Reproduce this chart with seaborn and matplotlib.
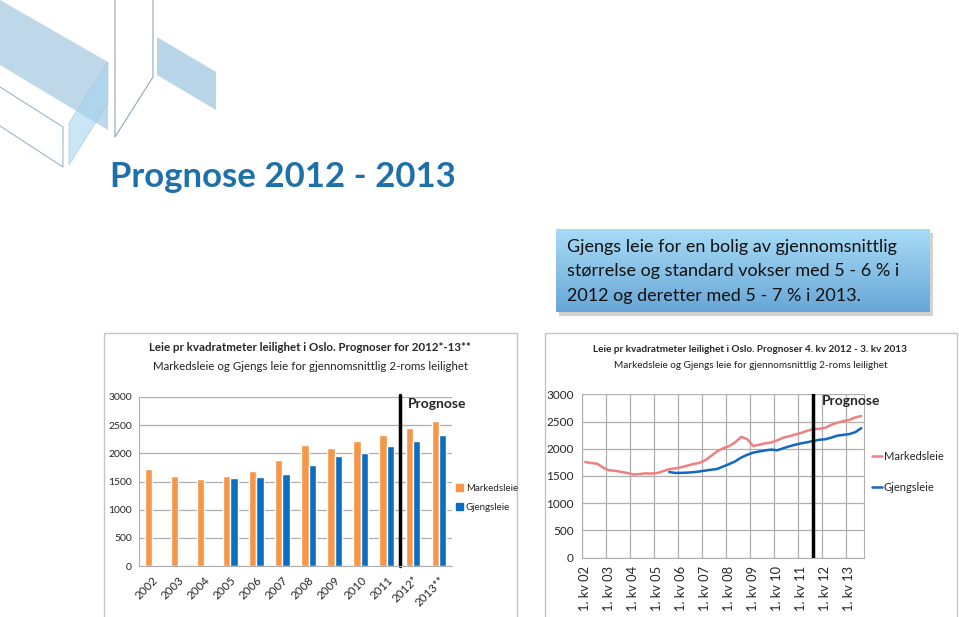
import numpy as np
import pandas as pd
import matplotlib
matplotlib.use("Agg")
import matplotlib.pyplot as plt
import seaborn as sns
from matplotlib.patches import Polygon, Rectangle
from matplotlib.lines import Line2D

# ---------------- data ----------------
years = ["2002", "2003", "2004", "2005", "2006", "2007", "2008", "2009",
         "2010", "2011", "2012*", "2013**"]
markedsleie_year = [1730, 1590, 1540, 1600, 1690, 1890, 2140, 2090, 2220, 2330, 2450, 2570]
gjengsleie_year = [np.nan, np.nan, np.nan, 1570, 1575, 1640, 1790, 1950, 2010, 2130, 2220, 2330]

quarter_ticklabels = ["1. kv 02", "1. kv 03", "1. kv 04", "1. kv 05", "1. kv 06", "1. kv 07",
                      "1. kv 08", "1. kv 09", "1. kv 10", "1. kv 11", "1. kv 12", "1. kv 13"]
markedsleie_q = [1756, 1738, 1725, 1650, 1605, 1595, 1575, 1555, 1527, 1535,
                 1548, 1545, 1555, 1590, 1625, 1640, 1660, 1690, 1720, 1740,
                 1790, 1870, 1955, 2010, 2050, 2120, 2220, 2175, 2050, 2075,
                 2100, 2115, 2155, 2205, 2230, 2262, 2292, 2330, 2360, 2366,
                 2385, 2440, 2478, 2508, 2528, 2575, 2600]
gjengsleie_q = [np.nan] * 14 + [1573, 1556, 1558, 1562, 1570, 1583, 1600, 1615, 1630, 1675,
                                1720, 1770, 1840, 1890, 1930, 1950, 1970, 1985, 1972, 2010,
                                2045, 2075, 2100, 2120, 2145, 2165, 2175, 2205, 2240, 2255,
                                2270, 2305, 2380]
series_names = ["Markedsleie", "Gjengsleie"]

# ---------------- style ----------------
sns.set_style("white")
FONT = ["Lato", "DejaVu Sans"]
plt.rcParams["font.family"] = FONT

W, H = 959, 617
fig = plt.figure(figsize=(W / 100, H / 100), dpi=100)


def fx(x):
    return x / W


def fy(y):
    return 1 - y / H


def axrect(x0, y0, x1, y1):
    return [fx(x0), fy(y1), (x1 - x0) / W, (y1 - y0) / H]


# background / decoration layer in pixel coords
bg = fig.add_axes([0, 0, 1, 1], zorder=-5)
bg.set_xlim(0, W)
bg.set_ylim(H, 0)
bg.axis("off")
bg.add_patch(Polygon([(0, 0), (108, 62), (108, 130), (0, 65)], closed=True,
                     facecolor="#A9CBE4", alpha=0.75, edgecolor="none"))
bg.add_patch(Polygon([(69, 123), (108, 62), (108, 103), (69, 165)], closed=True,
                     facecolor="#A6D4F0", alpha=0.6, edgecolor="#9BC3DC", lw=0.6))
bg.plot([0, 63, 63, 0], [87, 127, 167, 126], color="#9DB6CB", lw=0.8)
bg.plot([115, 115, 153, 153], [0, 137, 77, 0], color="#8FA8BD", lw=0.8)
bg.add_patch(Polygon([(157, 37), (216, 72), (216, 110), (157, 75)], closed=True,
                     facecolor="#B8D5EA", edgecolor="none"))
# panel frames
bg.add_patch(Rectangle((104, 333), 413, 320, fill=False, edgecolor="#C4C4C4", lw=1))
bg.add_patch(Rectangle((545, 333), 412, 320, fill=False, edgecolor="#C4C4C4", lw=1))
# text-box shadow
bg.add_patch(Rectangle((559, 233), 374, 83, facecolor="#9A9A9A", alpha=0.45, edgecolor="none"))

# main title
fig.text(fx(110), fy(177), "Prognose 2012 - 2013", fontsize=25, weight="bold",
         color="#1D70A8", ha="left", va="center")

# gradient text box
tb = fig.add_axes(axrect(556, 229, 930, 312), zorder=-2)
top = np.array(matplotlib.colors.to_rgb("#A8DCF6"))
bot = np.array(matplotlib.colors.to_rgb("#67A6D6"))
t = np.linspace(0, 1, 100)[:, None, None]
grad = top * (1 - t) + bot * t
grad = np.repeat(grad, 2, axis=1)
tb.imshow(grad, aspect="auto", extent=[0, 1, 0, 1])
tb.axis("off")
for yy, line in zip([247, 271, 296],
                    ["Gjengs leie for en bolig av gjennomsnittlig",
                     "størrelse og standard vokser med 5 - 6 % i",
                     "2012 og deretter med 5 - 7 % i 2013."]):
    fig.text(fx(567), fy(yy), line, fontsize=13, color="#111111", ha="left", va="center")

grid_c = "#AFAFAF"

# ---------------- left chart: bars ----------------
ax1 = fig.add_axes(axrect(139, 397, 452, 566))
df_bar = pd.DataFrame({
    "year": years * 2,
    "value": markedsleie_year + gjengsleie_year,
    "series": [series_names[0]] * len(years) + [series_names[1]] * len(years),
})
sns.barplot(data=df_bar, x="year", y="value", hue="series", ax=ax1,
            palette=["#F79646", "#0A6FC2"], width=0.56, saturation=1, legend=False)
ax1.set_xlim(-0.5, len(years) - 0.5)
ax1.set_ylim(0, 3000)
ax1.set_yticks(np.arange(0, 3001, 500))
ax1.yaxis.grid(True, color=grid_c, lw=0.9)
ax1.set_axisbelow(True)
ax1.set_xlabel("")
ax1.set_ylabel("")
for s in ["top", "right"]:
    ax1.spines[s].set_visible(False)
for s in ["left", "bottom"]:
    ax1.spines[s].set_color(grid_c)
ax1.tick_params(axis="y", labelsize=7.5, length=3, color=grid_c, pad=2)
ax1.set_xticks(np.arange(len(years)))
ax1.set_xticklabels(years, rotation=45, ha="right", rotation_mode="anchor")
ax1.tick_params(axis="x", which="major", length=0, labelsize=8.3, pad=6)
ax1.set_xticks(np.arange(len(years) + 1) - 0.5, minor=True)
ax1.tick_params(axis="x", which="minor", length=4, color=grid_c)
ax1.axvline(9.5, color="black", lw=2.5, ymax=1.01, clip_on=False)
ax1.text(9.8, 2980, "Prognose", fontsize=10, weight="bold", va="top", ha="left")
handles1 = [Rectangle((0, 0), 1, 1, color="#F79646"), Rectangle((0, 0), 1, 1, color="#0A6FC2")]
fig.legend(handles1, series_names, loc="center left", bbox_to_anchor=(fx(447), fy(498)),
           frameon=False, fontsize=7, handlelength=0.75, handleheight=0.75,
           handletextpad=0.3, labelspacing=1.0)
fig.text(fx(310), fy(348), "Leie pr kvadratmeter leilighet i Oslo. Prognoser for 2012*-13**",
         fontsize=8.3, weight="bold", ha="center", va="center")
fig.text(fx(311), fy(366), "Markedsleie og Gjengs leie for gjennomsnittlig 2-roms leilighet",
         fontsize=8.3, ha="center", va="center", color="#222222")

# ---------------- right chart: lines ----------------
ax2 = fig.add_axes(axrect(582.3, 394.3, 864.3, 557.7))
pos = np.arange(len(markedsleie_q)) + 0.5
df_line = pd.DataFrame({
    "pos": np.concatenate([pos, pos]),
    "value": markedsleie_q + gjengsleie_q,
    "series": [series_names[0]] * len(pos) + [series_names[1]] * len(pos),
}).dropna()
sns.lineplot(data=df_line, x="pos", y="value", hue="series", ax=ax2,
             palette=["#EE8080", "#1467C0"], lw=1.8, legend=False)
ax2.set_xlim(0, 47)
ax2.set_ylim(0, 3000)
ax2.set_yticks(np.arange(0, 3001, 500))
ax2.set_xticks(np.arange(len(quarter_ticklabels)) * 4 + 0.5)
ax2.set_xticklabels(quarter_ticklabels, rotation=90, va="top", ha="center")
ax2.tick_params(axis="x", which="major", length=0, labelsize=9.3, pad=6)
ax2.set_xticks(np.arange(len(quarter_ticklabels)) * 4, minor=True)
ax2.tick_params(axis="x", which="minor", length=4, color=grid_c)
ax2.xaxis.grid(True, which="minor", color=grid_c, lw=0.9)
ax2.yaxis.grid(True, color=grid_c, lw=0.9)
ax2.set_axisbelow(True)
ax2.set_xlabel("")
ax2.set_ylabel("")
ax2.tick_params(axis="y", labelsize=8.5, length=3, color=grid_c, pad=3)
ax2.spines["top"].set_visible(False)
ax2.spines["right"].set_color(grid_c)
for s in ["left", "bottom"]:
    ax2.spines[s].set_color(grid_c)
ax2.axvline(38.4, color="black", lw=2.5)
ax2.text(39.9, 2980, "Prognose", fontsize=10, weight="bold", va="top", ha="left")
handles2 = [Line2D([0], [0], color="#EE8080", lw=1.8), Line2D([0], [0], color="#1467C0", lw=1.8)]
fig.legend(handles2, series_names, loc="center left", bbox_to_anchor=(fx(862), fy(472)),
           frameon=False, fontsize=8, handlelength=0.9, handletextpad=0.15, labelspacing=1.75)
fig.text(fx(750), fy(349), "Leie pr kvadratmeter leilighet i Oslo. Prognoser 4. kv 2012 - 3. kv 2013",
         fontsize=7.2, weight="bold", ha="center", va="center")
fig.text(fx(751), fy(365), "Markedsleie og Gjengs leie for gjennomsnittlig 2-roms leilighet",
         fontsize=7.2, ha="center", va="center", color="#222222")

fig.savefig("out.png", dpi=100)
